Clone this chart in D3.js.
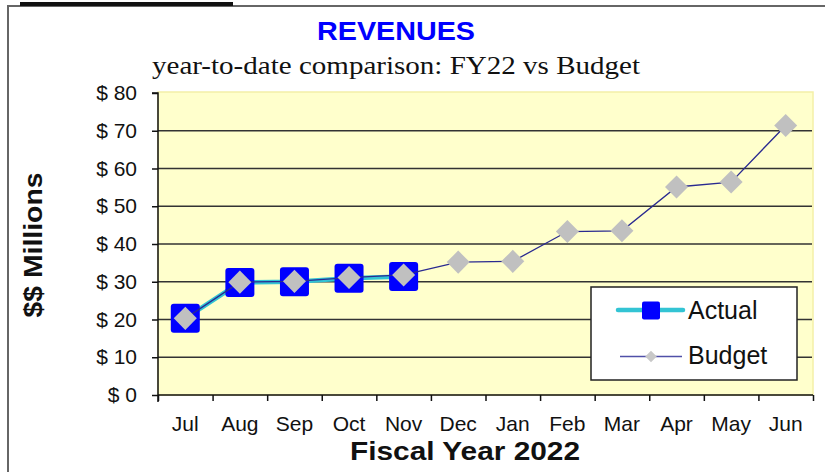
<!DOCTYPE html>
<html>
<head>
<meta charset="utf-8">
<script src="https://cdn.jsdelivr.net/npm/d3@7/dist/d3.min.js"></script>
<style>
	html, body { margin: 0; padding: 0; background: #fff; }
	svg { display: block; }
</style>
</head>
<body>
<div id="js-chart"></div>
<script>
// data ($ millions)
const months = ['Jul', 'Aug', 'Sep', 'Oct', 'Nov', 'Dec', 'Jan', 'Feb', 'Mar', 'Apr', 'May', 'Jun'];
const actual = [20.3, 29.8, 30.0, 30.9, 31.4];
const budget = [20.3, 29.9, 30.1, 31.1, 31.8, 35.2, 35.4, 43.3, 43.5, 55.1, 56.4, 71.4];
const yTicks = [0, 10, 20, 30, 40, 50, 60, 70, 80];

const width = 825, height = 472;
const plot = { left: 158, right: 813, top: 93, bottom: 395 };

const svg = d3.select('#js-chart')
	.append('svg')
	.attr('width', width)
	.attr('height', height);

// outer frame
svg.append('path')
	.attr('d', `M8,${height} V6 H${width}`)
	.attr('fill', 'none')
	.attr('stroke', '#666')
	.attr('stroke-width', 2);
svg.append('line')
	.attr('x1', 20).attr('x2', 233).attr('y1', 4).attr('y2', 4)
	.attr('stroke', '#111').attr('stroke-width', 4);

// scales
const x = d3.scaleBand().domain(months).range([plot.left, plot.right]).padding(0);
const xEdge = d3.scaleLinear().domain([0, months.length]).range([plot.left, plot.right]);
const y = d3.scaleLinear().domain([0, 80]).range([plot.bottom, plot.top]);
const cx = (d, i) => x(months[i]) + x.bandwidth() / 2;

// plot background
svg.append('rect')
	.attr('x', plot.left).attr('y', plot.top - 1)
	.attr('width', plot.right - plot.left).attr('height', plot.bottom - plot.top + 1)
	.attr('fill', '#ffffcc')
	.attr('stroke', '#f4f0a8')
	.attr('stroke-width', 1.5);

// gridlines
svg.append('g')
	.selectAll('line')
	.data(yTicks.filter(t => t > 0 && t < 80))
	.enter().append('line')
	.attr('x1', plot.left).attr('x2', plot.right - 1)
	.attr('y1', d => y(d)).attr('y2', d => y(d))
	.attr('stroke', '#333')
	.attr('stroke-width', 1.5);

// y axis
const yAxis = svg.append('g')
	.attr('transform', `translate(${plot.left},0)`)
	.call(d3.axisLeft(y).tickValues(yTicks).tickSize(6).tickFormat(d => '$ ' + d));
yAxis.select('.domain').attr('stroke', '#111').attr('stroke-width', 1.5)
	.attr('d', `M-6,${plot.top}H0V${plot.bottom + 7}`);
yAxis.selectAll('.tick line').attr('stroke', '#111').attr('stroke-width', 1.5);
yAxis.selectAll('.tick text')
	.attr('x', -21)
	.attr('font-family', 'Liberation Sans, Arial, sans-serif')
	.attr('font-size', 21)
	.attr('fill', '#111');

// x axis (ticks on category edges)
const xAxis = svg.append('g')
	.attr('transform', `translate(0,${plot.bottom})`)
	.call(d3.axisBottom(xEdge).tickValues(d3.range(months.length + 1)).tickSize(6).tickFormat(''));
xAxis.select('.domain').attr('stroke', '#111').attr('stroke-width', 1.5)
	.attr('d', `M${plot.left},0H${plot.right}`);
xAxis.selectAll('.tick line').attr('stroke', '#111').attr('stroke-width', 1.5);

svg.append('g')
	.selectAll('text')
	.data(months)
	.enter().append('text')
	.attr('x', d => x(d) + x.bandwidth() / 2)
	.attr('y', 431)
	.attr('text-anchor', 'middle')
	.attr('font-family', 'Liberation Sans, Arial, sans-serif')
	.attr('font-size', 21)
	.attr('fill', '#111')
	.text(d => d);

// actual series
const line = d3.line().x(cx).y(d => y(d));
svg.append('path')
	.datum(actual)
	.attr('d', line)
	.attr('fill', 'none')
	.attr('stroke', '#33c4d4')
	.attr('stroke-width', 4.5);
svg.append('g')
	.selectAll('rect')
	.data(actual)
	.enter().append('rect')
	.attr('x', (d, i) => cx(d, i) - 14.5)
	.attr('y', d => y(d) - 14.5)
	.attr('width', 29).attr('height', 29)
	.attr('rx', 3)
	.attr('fill', '#0000ff');

// budget series
const diamond = d3.symbol().type(d3.symbolDiamond2).size(26 * 26 / 2);
svg.append('path')
	.datum(budget)
	.attr('d', line)
	.attr('fill', 'none')
	.attr('stroke', '#2a2a90')
	.attr('stroke-width', 1.3);
svg.append('g')
	.selectAll('path')
	.data(budget)
	.enter().append('path')
	.attr('d', diamond)
	.attr('transform', (d, i) => `translate(${cx(d, i)},${y(d)})`)
	.attr('fill', '#c0c0c0');

// legend
const legend = svg.append('g').attr('transform', 'translate(591,287)');
legend.append('rect')
	.attr('width', 206).attr('height', 93)
	.attr('fill', '#fff')
	.attr('stroke', '#222')
	.attr('stroke-width', 1.5);
legend.append('line')
	.attr('x1', 27).attr('x2', 92).attr('y1', 23).attr('y2', 23)
	.attr('stroke', '#33c4d4').attr('stroke-width', 4.5).attr('stroke-linecap', 'round');
legend.append('rect')
	.attr('x', 51).attr('y', 14.5).attr('width', 18).attr('height', 18).attr('rx', 2)
	.attr('fill', '#0000ff');
legend.append('line')
	.attr('x1', 29).attr('x2', 91).attr('y1', 69.5).attr('y2', 69.5)
	.attr('stroke', '#5050a8').attr('stroke-width', 1.3);
legend.append('path')
	.attr('d', d3.symbol().type(d3.symbolDiamond2).size(13 * 13 / 2))
	.attr('transform', 'translate(60,69.5)')
	.attr('fill', '#c8c8c8');
legend.selectAll('text.label')
	.data(['Actual', 'Budget'])
	.enter().append('text')
	.attr('class', 'label')
	.attr('x', 97)
	.attr('y', (d, i) => 32 + i * 45)
	.attr('font-family', 'Liberation Sans, Arial, sans-serif')
	.attr('font-size', 25)
	.attr('fill', '#111')
	.text(d => d);

// titles
svg.append('text')
	.attr('x', 396).attr('y', 40)
	.attr('text-anchor', 'middle')
	.attr('font-family', 'Liberation Sans, Arial, sans-serif')
	.attr('font-weight', 'bold')
	.attr('font-size', 26)
	.attr('textLength', 158).attr('lengthAdjust', 'spacingAndGlyphs')
	.attr('fill', '#0000ff')
	.text('REVENUES');

svg.append('text')
	.attr('x', 396).attr('y', 74)
	.attr('text-anchor', 'middle')
	.attr('font-family', 'Liberation Serif, Times New Roman, serif')
	.attr('font-size', 26)
	.attr('textLength', 488).attr('lengthAdjust', 'spacingAndGlyphs')
	.attr('fill', '#111')
	.text('year-to-date comparison: FY22 vs Budget');

svg.append('text')
	.attr('x', 465).attr('y', 460)
	.attr('text-anchor', 'middle')
	.attr('font-family', 'Liberation Sans, Arial, sans-serif')
	.attr('font-weight', 'bold')
	.attr('font-size', 25)
	.attr('textLength', 230).attr('lengthAdjust', 'spacingAndGlyphs')
	.attr('fill', '#111')
	.text('Fiscal Year 2022');

svg.append('text')
	.attr('transform', 'translate(42,245) rotate(-90)')
	.attr('text-anchor', 'middle')
	.attr('font-family', 'Liberation Sans, Arial, sans-serif')
	.attr('font-weight', 'bold')
	.attr('font-size', 26)
	.attr('textLength', 145).attr('lengthAdjust', 'spacingAndGlyphs')
	.attr('fill', '#111')
	.text('$$ Millions');
</script>
</body>
</html>
